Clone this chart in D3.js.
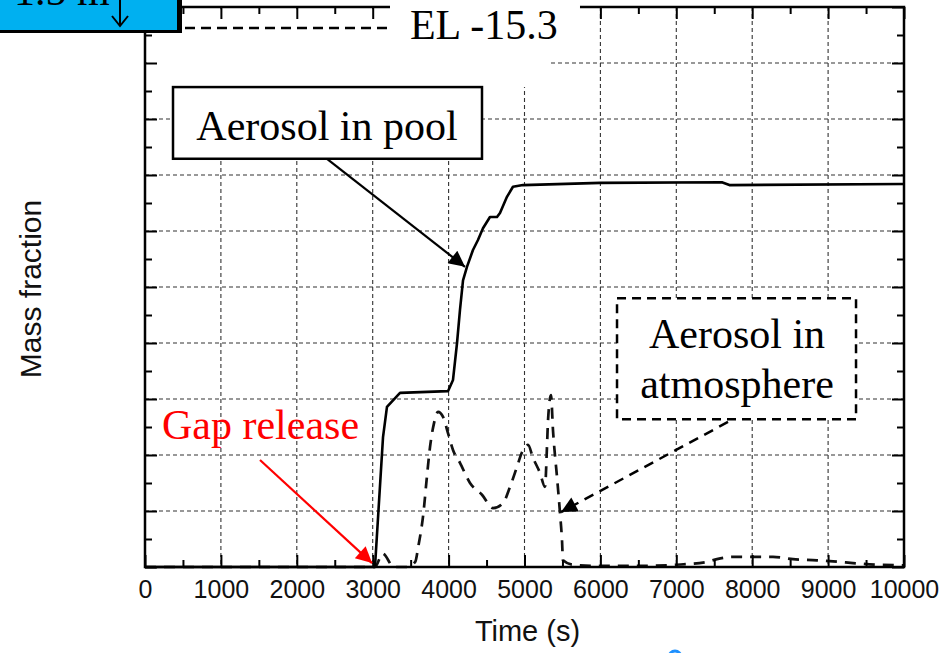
<!DOCTYPE html>
<html>
<head>
<meta charset="utf-8">
<script src="https://cdn.jsdelivr.net/npm/d3@7/dist/d3.min.js"></script>
<style>
  html, body { margin: 0; padding: 0; background: #fff; }
  svg { display: block; }
</style>
</head>
<body>
<svg id="chart" width="943" height="653"></svg>
<script>
// ---------------- data ----------------
const xMajorTicks = [0, 1000, 2000, 3000, 4000, 5000, 6000, 7000, 8000, 9000, 10000];
const xMinorTicks = [500, 1500, 2500, 3500, 4500, 5500, 6500, 7500, 8500, 9500];
const yMajorTicks = [0, 0.1, 0.2, 0.3, 0.4, 0.5, 0.6, 0.7, 0.8, 0.9, 1.0];
const yMinorTicks = [0.05, 0.15, 0.25, 0.35, 0.45, 0.55, 0.65, 0.75, 0.85, 0.95];

// Aerosol in pool (solid)
const poolTime  = [0, 3000, 3030, 3136, 3188, 3360, 3992, 4058, 4111, 4150, 4190, 4242, 4321, 4387, 4453, 4545, 4638, 4677, 4769, 4848, 4980, 6000, 7600, 7700, 10000];
const poolValue = [0, 0, 0, 0.232, 0.286, 0.311, 0.314, 0.334, 0.400, 0.459, 0.512, 0.536, 0.566, 0.584, 0.605, 0.625, 0.625, 0.632, 0.661, 0.679, 0.682, 0.686, 0.687, 0.682, 0.684];

// Aerosol in atmosphere (dashed)
const atmTime  = [0, 3030, 3130, 3280, 3450, 3560, 3600, 3668, 3710, 3755, 3808, 3861, 3927, 3992, 4058, 4150, 4282, 4440, 4585, 4717, 4809, 4901, 4967, 5046, 5112, 5204, 5270, 5296, 5310, 5349, 5375, 5428, 5468, 5494, 5507, 5639, 6000, 6500, 7000, 7400, 7536, 7747, 8010, 8274, 8537, 8853, 9157, 9328, 9644, 10000];
const atmValue = [0, 0, 0.024, 0, 0, 0.009, 0.036, 0.096, 0.155, 0.214, 0.257, 0.277, 0.268, 0.239, 0.209, 0.186, 0.150, 0.129, 0.105, 0.114, 0.143, 0.179, 0.205, 0.218, 0.195, 0.168, 0.143, 0.214, 0.262, 0.307, 0.245, 0.161, 0.096, 0.048, 0.012, 0.004, 0.002, 0.002, 0.004, 0.009, 0.014, 0.018, 0.018, 0.018, 0.014, 0.012, 0.009, 0.007, 0.004, 0.003];

const xLabel = "Time (s)";
const yLabel = "Mass fraction";

// ---------------- layout ----------------
const svg = d3.select("#chart");
const L = 145, R = 904, T = 7, B = 567;
const x = d3.scaleLinear().domain([0, 10000]).range([L, R]);
const y = d3.scaleLinear().domain([0, 1]).range([B, T]);

const SERIF = "'Liberation Serif','Times New Roman',serif";
const SANS = "'Liberation Sans',Arial,Helvetica,sans-serif";

// grid
const grid = svg.append("g").attr("stroke", "#333").attr("stroke-width", 1.1).attr("stroke-dasharray", "4,3");
grid.selectAll("line.v").data(xMajorTicks.slice(1, -1)).join("line")
  .attr("x1", d => x(d)).attr("x2", d => x(d)).attr("y1", T).attr("y2", B);
grid.selectAll("line.h").data(yMajorTicks.slice(1, -1)).join("line")
  .attr("x1", L).attr("x2", R).attr("y1", d => y(d)).attr("y2", d => y(d));

// curves
const pool = poolTime.map((t, i) => [t, poolValue[i]]);
const atm = atmTime.map((t, i) => [t, atmValue[i]]);
svg.append("path").datum(atm)
  .attr("d", d3.line().x(d => x(d[0])).y(d => y(d[1])).curve(d3.curveMonotoneX))
  .attr("fill", "none").attr("stroke", "#111").attr("stroke-width", 2.7)
  .attr("stroke-dasharray", "11,8");
svg.append("path").datum(pool)
  .attr("d", d3.line().x(d => x(d[0])).y(d => y(d[1])))
  .attr("fill", "none").attr("stroke", "#000").attr("stroke-width", 2.6)
  .attr("stroke-linejoin", "round");

// white cover in the upper left of plot
svg.append("rect").attr("x", x(26)).attr("y", y(0.996))
  .attr("width", x(5310) - x(26)).attr("height", y(0.857) - y(0.996)).attr("fill", "#fff");

// axes
function styleAxis(g) {
  g.select(".domain").remove();
  g.selectAll(".tick line").attr("stroke", "#000").attr("stroke-width", 2);
}
svg.append("g").attr("transform", `translate(0,${B})`)
  .call(d3.axisBottom(x).tickValues(xMajorTicks).tickSize(-12).tickPadding(13).tickFormat(d3.format("d")))
  .call(styleAxis)
  .call(g => g.selectAll("text").attr("font-family", SANS).attr("font-size", 25).attr("fill", "#111"));
svg.append("g").attr("transform", `translate(0,${B})`)
  .call(d3.axisBottom(x).tickValues(xMinorTicks).tickSize(-7).tickFormat(""))
  .call(styleAxis);
svg.append("g").attr("transform", `translate(0,${T})`)
  .call(d3.axisTop(x).tickValues(xMajorTicks).tickSize(-12).tickFormat("")).call(styleAxis);
svg.append("g").attr("transform", `translate(0,${T})`)
  .call(d3.axisTop(x).tickValues(xMinorTicks).tickSize(-7).tickFormat("")).call(styleAxis);
svg.append("g").attr("transform", `translate(${L},0)`)
  .call(d3.axisLeft(y).tickValues(yMajorTicks).tickSize(-12).tickFormat("")).call(styleAxis);
svg.append("g").attr("transform", `translate(${L},0)`)
  .call(d3.axisLeft(y).tickValues(yMinorTicks).tickSize(-7).tickFormat("")).call(styleAxis);
svg.append("g").attr("transform", `translate(${R},0)`)
  .call(d3.axisRight(y).tickValues(yMajorTicks).tickSize(-12).tickFormat("")).call(styleAxis);
svg.append("g").attr("transform", `translate(${R},0)`)
  .call(d3.axisRight(y).tickValues(yMinorTicks).tickSize(-7).tickFormat("")).call(styleAxis);

// frame
svg.append("rect").attr("x", L).attr("y", T).attr("width", R - L).attr("height", B - T)
  .attr("fill", "none").attr("stroke", "#000").attr("stroke-width", 2.5);

// axis labels
svg.append("text").attr("x", (L + R) / 2 + 3).attr("y", 641).attr("text-anchor", "middle")
  .attr("font-family", SANS).attr("font-size", 29).attr("fill", "#111").text(xLabel);
svg.append("text").attr("transform", `translate(41,${(T + B) / 2 + 2})rotate(-90)`).attr("text-anchor", "middle")
  .attr("font-family", SANS).attr("font-size", 30).attr("fill", "#111").text(yLabel);

// ---------------- annotations ----------------
const defs = svg.append("defs");
function arrowMarker(id, color) {
  defs.append("marker").attr("id", id).attr("viewBox", "0 0 10 10").attr("refX", 10).attr("refY", 5)
    .attr("markerWidth", 18).attr("markerHeight", 16).attr("markerUnits", "userSpaceOnUse")
    .attr("orient", "auto")
    .append("path").attr("d", "M0,0 L10,5 L0,10 Z").attr("fill", color);
}
arrowMarker("arrBlack", "#000");
arrowMarker("arrRed", "#f00");

// EL white box (covers top frame)
svg.append("rect").attr("x", x(3228)).attr("y", 0).attr("width", x(5731) - x(3228)).attr("height", 46).attr("fill", "#fff");
// EL level dashed line
svg.append("line").attr("x1", x(527)).attr("x2", x(3202)).attr("y1", y(0.9625)).attr("y2", y(0.9625))
  .attr("stroke", "#000").attr("stroke-width", 2.5).attr("stroke-dasharray", "10,6");
svg.append("text").attr("x", x(3491)).attr("y", y(0.943)).attr("font-family", SERIF).attr("font-size", 42)
  .attr("fill", "#000").text("EL -15.3");

// blue box top-left
svg.append("rect").attr("x", -10).attr("y", -10).attr("width", 192).attr("height", 43).attr("fill", "#000");
svg.append("rect").attr("x", -10).attr("y", -10).attr("width", 187).attr("height", 40).attr("fill", "#00b0f0");
svg.append("text").attr("x", 14).attr("y", 5).attr("font-family", SERIF).attr("font-size", 42).attr("fill", "#000").text("1.5 m");
svg.append("line").attr("x1", 120).attr("x2", 120).attr("y1", -2).attr("y2", 26).attr("stroke", "#000").attr("stroke-width", 2);
svg.append("path").attr("d", "M112,16 L120,26 L128,16").attr("fill", "none").attr("stroke", "#000").attr("stroke-width", 2);

// Aerosol in pool box
svg.append("rect").attr("x", x(369)).attr("y", y(0.857)).attr("width", x(4440) - x(369)).attr("height", y(0.729) - y(0.857))
  .attr("fill", "#fff").attr("stroke", "#000").attr("stroke-width", 2.5);
svg.append("text").attr("x", x(2398)).attr("y", y(0.7625)).attr("text-anchor", "middle")
  .attr("font-family", SERIF).attr("font-size", 42).attr("fill", "#000").text("Aerosol in pool");
svg.append("line").attr("x1", x(2398)).attr("y1", y(0.729)).attr("x2", x(4216)).attr("y2", y(0.536))
  .attr("stroke", "#000").attr("stroke-width", 2.2).attr("marker-end", "url(#arrBlack)");

// Aerosol in atmosphere box
svg.append("rect").attr("x", x(6219)).attr("y", y(0.480)).attr("width", x(9368) - x(6219)).attr("height", y(0.264) - y(0.480))
  .attr("fill", "#fff").attr("stroke", "#000").attr("stroke-width", 2.5).attr("stroke-dasharray", "9,6");
svg.append("text").attr("x", x(7800)).attr("y", y(0.391)).attr("text-anchor", "middle")
  .attr("font-family", SERIF).attr("font-size", 42).attr("fill", "#000").text("Aerosol in");
svg.append("text").attr("x", x(7800)).attr("y", y(0.302)).attr("text-anchor", "middle")
  .attr("font-family", SERIF).attr("font-size", 42).attr("fill", "#000").text("atmosphere");
svg.append("line").attr("x1", x(7681)).attr("y1", y(0.259)).attr("x2", x(5481)).attr("y2", y(0.098))
  .attr("stroke", "#000").attr("stroke-width", 2.5).attr("stroke-dasharray", "10,7").attr("marker-end", "url(#arrBlack)");

// Gap release
svg.append("text").attr("x", x(224)).attr("y", y(0.2286)).attr("font-family", SERIF).attr("font-size", 42)
  .attr("fill", "#ff0000").text("Gap release");
svg.append("line").attr("x1", x(1515)).attr("y1", y(0.191)).attr("x2", x(2991)).attr("y2", y(0.007))
  .attr("stroke", "#f00").attr("stroke-width", 2.2).attr("marker-end", "url(#arrRed)");

// small blue fragment at bottom edge
svg.append("circle").attr("cx", 675).attr("cy", 657).attr("r", 6).attr("fill", "none").attr("stroke", "#1e90ff").attr("stroke-width", 3);
</script>
</body>
</html>
